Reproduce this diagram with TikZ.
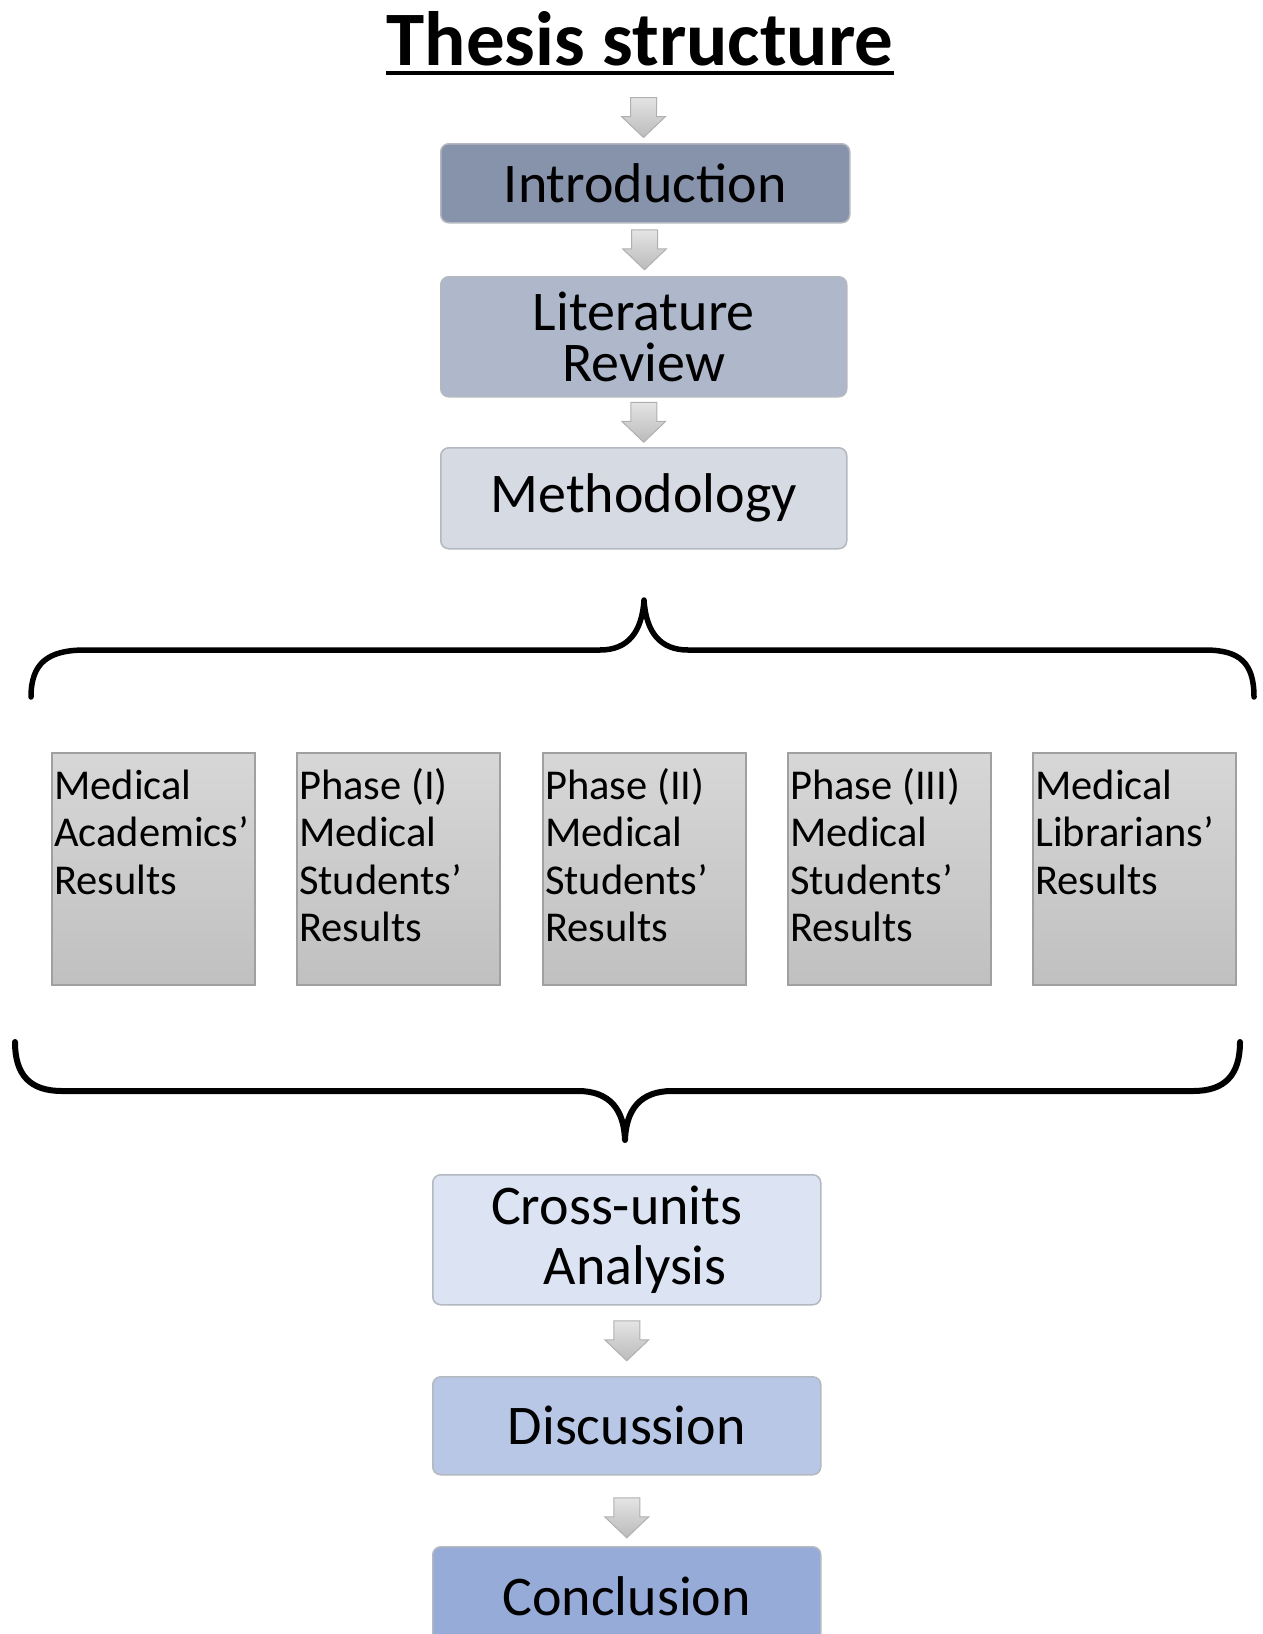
\documentclass[tikz,border=0pt]{standalone}
\usepackage{fontspec}
\setmainfont{Carlito}
\usetikzlibrary{calc}

\definecolor{introfill}{HTML}{8792AB}
\definecolor{litfill}{HTML}{AEB8CA}
\definecolor{methfill}{HTML}{D5DAE3}
\definecolor{crossfill}{HTML}{DCE3F2}
\definecolor{discfill}{HTML}{B8C7E5}
\definecolor{conclfill}{HTML}{97ABD8}
\definecolor{stageborder}{HTML}{B4B8C0}
\definecolor{restop}{HTML}{D7D7D7}
\definecolor{resbottom}{HTML}{C0C0C0}
\definecolor{resborder}{HTML}{A0A0A0}
\definecolor{arrowtop}{HTML}{E4E4E4}
\definecolor{arrowbottom}{HTML}{BBBBBB}
\definecolor{arrowborder}{HTML}{B0B0B0}

\begin{document}
\begin{tikzpicture}[x=1pt,y=-1pt,
  stage/.style={draw=stageborder, fill=#1, rounded corners=8pt, line width=1.5pt,
    anchor=north west, align=center, inner sep=0pt,
    font=\fontsize{56}{51}\selectfont},
  resbox/.style={draw=resborder, line width=1.5pt, top color=restop, bottom color=resbottom,
    anchor=north west, minimum width=203pt, minimum height=232pt, inner sep=0pt},
  restext/.style={anchor=north west, align=left, inner sep=0pt,
    font=\fontsize{42.5}{47.5}\selectfont},
  bracestroke/.style={line width=5.5pt, line cap=round, line join=round},
  pics/flowarrow/.style={code={
    \path[draw=arrowborder, line width=1pt, top color=arrowtop, bottom color=arrowbottom]
      (-13,-20) -- (13,-20) -- (13,-1) -- (22,-1) -- (0,20) -- (-22,-1) -- (-13,-1) -- cycle;
  }}]

\useasboundingbox (0,0) rectangle (1262,1634);
\clip (0,0) rectangle (1262,1634);

% title
\node[font=\fontsize{77}{80}\selectfont\bfseries, inner sep=0pt, anchor=base] (title) at (640,65) {Thesis structure};
\draw[line width=4pt] ($(title.base west)+(0,8)$) -- ($(title.base east)+(0,8)$);

% upper chain
\node[stage=introfill, minimum width=409pt, minimum height=79pt] (intro) at (440,143) {Introduction};
\node[stage=litfill, minimum width=406pt, minimum height=120pt] (lit) at (440,276) {Literature\\Review};
\node[stage=methfill, minimum width=406pt, minimum height=101pt] (meth) at (440,447) {Methodology};

% result units
\node[resbox] (r1) at (51,752) {};
\node[resbox] (r2) at (296,752) {};
\node[resbox] (r3) at (542,752) {};
\node[resbox] (r4) at (787,752) {};
\node[resbox] (r5) at (1032,752) {};
\node[restext] (t1) at ($(r1.north west)+(3,9)$) {\rule{0pt}{38pt}Medical\\Academics’\\Results};
\node[restext] (t2) at ($(r2.north west)+(3,9)$) {\rule{0pt}{38pt}Phase (I)\\Medical\\Students’\\Results};
\node[restext] (t3) at ($(r3.north west)+(3,9)$) {\rule{0pt}{38pt}Phase (II)\\Medical\\Students’\\Results};
\node[restext] (t4) at ($(r4.north west)+(3,9)$) {\rule{0pt}{38pt}Phase (III)\\Medical\\Students’\\Results};
\node[restext] (t5) at ($(r5.north west)+(3,9)$) {\rule{0pt}{38pt}Medical\\Librarians’\\Results};

% lower chain
\node[stage=crossfill, minimum width=388pt, minimum height=130pt,
  font=\fontsize{56}{60}\selectfont] (cross) at (432,1174)
  {Cross-units\rule{20pt}{0pt}\\\rule{17pt}{0pt}Analysis};
\node[stage=discfill, minimum width=388pt, minimum height=98pt] (disc) at (432,1376) {Discussion};
\node[stage=conclfill, minimum width=388pt, minimum height=98pt] (concl) at (432,1546) {Conclusion};

% block arrows between stages
\path (title.south) -- (intro.north) coordinate[pos=0.67] (m0);
\path (intro.south) -- (lit.north) coordinate[pos=0.5] (m1);
\path (lit.south) -- (meth.north) coordinate[pos=0.5] (m2);
\path (cross.south) -- (disc.north) coordinate[pos=0.5] (m3);
\path (disc.south) -- (concl.north) coordinate[pos=0.6] (m4);
\pic at (m0) {flowarrow};
\pic at (m1) {flowarrow};
\pic at (m2) {flowarrow};
\pic at (m3) {flowarrow};
\pic at (m4) {flowarrow};

% opening brace above the units
\draw[bracestroke] (31,697) .. controls (31,663) and (48,650) .. (85,650)
  -- (600,650) .. controls (628,650) and (642,632) .. (644,600)
  .. controls (646,632) and (660,650) .. (688,650)
  -- (1205,650) .. controls (1240,650) and (1254,663) .. (1254,697);

% closing brace below the units
\draw[bracestroke, line width=6pt] (15,1042) .. controls (15,1075) and (30,1091) .. (62,1091)
  -- (578,1091) .. controls (610,1091) and (624,1110) .. (625,1140)
  .. controls (626,1110) and (640,1091) .. (672,1091)
  -- (1193,1091) .. controls (1225,1091) and (1240,1075) .. (1240,1042);

\end{tikzpicture}
\end{document}
